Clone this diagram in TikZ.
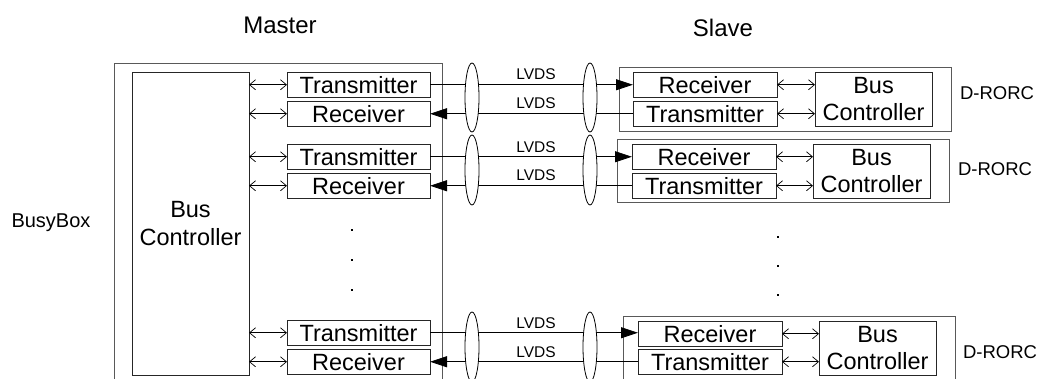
\documentclass[tikz,border=0pt]{standalone}
\usepackage{fontspec}
\setmainfont{Liberation Sans}
\usetikzlibrary{arrows.meta}
\begin{document}
\begin{tikzpicture}[x=1pt,y=-1pt,
  box/.style={draw=black!85, line width=0.8pt, inner sep=0pt, outer sep=0pt, anchor=north west,
    minimum width=143pt, minimum height=25.5pt, font=\fontsize{23.5}{26}\selectfont},
  bc/.style={draw=black!85, line width=0.8pt, inner sep=0pt, outer sep=0pt, anchor=north west,
    minimum width=117pt, minimum height=54pt, align=center, font=\fontsize{23.5}{27}\selectfont},
  grp/.style={draw=black!65, line width=0.8pt},
  dbl/.style={{Straight Barb[length=6pt,width=10pt]}-{Straight Barb[length=6pt,width=10pt]}, line width=0.7pt},
  sig/.style={-{Triangle[length=17pt,width=11pt]}, line width=0.8pt},
  lvds/.style={font=\fontsize{15.5}{17}\selectfont, inner sep=0pt},
  lab/.style={inner sep=0pt},
  ell/.style={draw, fill=white, line width=0.8pt},
  dot/.style={fill=black}
]
\useasboundingbox (0,0) rectangle (1045,378);
\clip (0,0) rectangle (1045,378);

% titles
\node[lab, font=\fontsize{24}{26}\selectfont] (master) at (280,25) {Master};
\node[lab, font=\fontsize{24}{26}\selectfont] (slave) at (723,28) {Slave};
\node[lab, font=\fontsize{20}{22}\selectfont] (busybox) at (51,223) {BusyBox};

% master group
\draw[grp] (114,400) -- (114,63) -- (442,63) -- (442,400);
\node[draw=black!85, line width=0.8pt, inner sep=0pt, outer sep=0pt, anchor=north west,
  minimum width=117pt, minimum height=303pt, align=center, font=\fontsize{23.5}{28}\selectfont]
  (mbc) at (132,72) {Bus\\Controller};

% master T/R
\node[box] (mt1) at (287,72) {Transmitter};
\node[box] (mr1) at (287,101) {Receiver};
\node[box] (mt2) at (287,144) {Transmitter};
\node[box] (mr2) at (287,173) {Receiver};
\node[box] (mt3) at (287,320) {Transmitter};
\node[box] (mr3) at (287,349) {Receiver};

% slave groups
\draw[grp] (619,67) rectangle (951,131);
\draw[grp] (617,139) rectangle (949,202);
\draw[grp] (623,316) rectangle (955,400);

\node[box,minimum width=144pt] (sr1) at (633,72) {Receiver};
\node[box,minimum width=144pt] (st1) at (633,101) {Transmitter};
\node[bc] (sbc1) at (815,72) {Bus\\Controller};
\node[box,minimum width=144pt] (sr2) at (632,144) {Receiver};
\node[box,minimum width=144pt] (st2) at (632,173) {Transmitter};
\node[bc] (sbc2) at (813,144) {Bus\\Controller};
\node[box,minimum width=144pt] (sr3) at (638,321) {Receiver};
\node[box,minimum width=144pt] (st3) at (638,349) {Transmitter};
\node[bc,minimum height=54pt] (sbc3) at (819,321) {Bus\\Controller};

\node[lab, font=\fontsize{18.5}{20}\selectfont] (d1) at (997,93) {D-RORC};
\node[lab, font=\fontsize{18.5}{20}\selectfont] (d2) at (995,169) {D-RORC};
\node[lab, font=\fontsize{18.5}{20}\selectfont] (d3) at (1000,352) {D-RORC};

% master internal arrows
\foreach \n in {mt1,mr1,mt2,mr2,mt3,mr3}
  \draw[dbl] (mbc.east |- \n.west) -- (\n.west);
% slave internal arrows
\foreach \r/\b in {sr1/sbc1,st1/sbc1,sr2/sbc2,st2/sbc2,sr3/sbc3,st3/sbc3}
  \draw[dbl] (\r.east) -- (\b.west |- \r.east);

% LVDS links
\draw[sig] (mt1.east) -- (sr1.west |- mt1.east);
\draw[sig] (st1.west) -- (mr1.east |- st1.west);
\draw[sig] (mt2.east) -- (sr2.west |- mt2.east);
\draw[sig] (st2.west) -- (mr2.east |- st2.west);
\draw[sig] (mt3.east) -- (sr3.west |- mt3.east);
\draw[sig] (st3.west) -- (mr3.east |- st3.west);

% ellipses (cable bundles)
\foreach \cy/\ry in {97.5/34.5, 170/35, 347/35}{
  \draw[ell] (472,\cy) ellipse [x radius=7pt, y radius=\ry pt];
  \draw[ell] (590,\cy) ellipse [x radius=7pt, y radius=\ry pt];
}

\node[lvds] (l1) at (536,74) {LVDS};
\node[lvds] (l2) at (536,103) {LVDS};
\node[lvds] (l3) at (536,147) {LVDS};
\node[lvds] (l4) at (536,175) {LVDS};
\node[lvds] (l5) at (536,323) {LVDS};
\node[lvds] (l6) at (536,352) {LVDS};

% dots
\foreach \y in {229,259,289} \fill[dot] (351,\y) rectangle ++(2.2,2.2);
\foreach \y in {236,265,294} \fill[dot] (777,\y) rectangle ++(2.2,2.2);
\end{tikzpicture}
\end{document}
